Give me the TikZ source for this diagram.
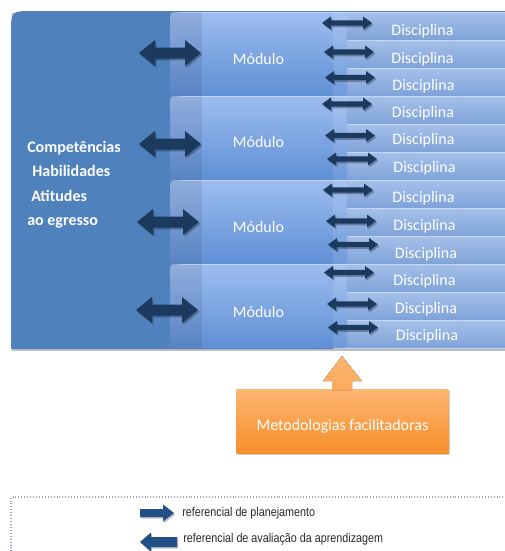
\documentclass[tikz,border=0pt]{standalone}
\usepackage{fontspec}
\setmainfont{Carlito}
\newfontfamily\legendfont[FakeStretch=0.85]{Liberation Sans}
\usetikzlibrary{shadows}
\definecolor{bigblue}{HTML}{4F81BD}
\definecolor{modtop}{HTML}{9DBDF0}
\definecolor{modbot}{HTML}{5F8FD4}
\definecolor{disctop}{HTML}{A6C1EA}
\definecolor{discbot}{HTML}{7EA2D8}
\definecolor{discline}{HTML}{C3D5F0}
\definecolor{navy}{HTML}{1B3A5E}
\definecolor{legblue}{HTML}{24508A}
\definecolor{orangetop}{HTML}{FDB570}
\definecolor{orangebot}{HTML}{F78F2C}
\definecolor{dotgray}{HTML}{9CA6B8}
\definecolor{legtext}{HTML}{2A2A2A}
% double block arrow: x1,x2,y,shaft half,head half,head length,style
\newcommand\dblarrow[7]{%
  \fill[black,opacity=0.28,xshift=1pt,yshift=-1.4pt]
    ({#1},{#3}) -- ({#1+#6},{#3-#5}) -- ({#1+#6},{#3-#4}) -- ({#2-#6},{#3-#4}) -- ({#2-#6},{#3-#5}) -- ({#2},{#3})
    -- ({#2-#6},{#3+#5}) -- ({#2-#6},{#3+#4}) -- ({#1+#6},{#3+#4}) -- ({#1+#6},{#3+#5}) -- cycle;
  \fill[#7]
    ({#1},{#3}) -- ({#1+#6},{#3-#5}) -- ({#1+#6},{#3-#4}) -- ({#2-#6},{#3-#4}) -- ({#2-#6},{#3-#5}) -- ({#2},{#3})
    -- ({#2-#6},{#3+#5}) -- ({#2-#6},{#3+#4}) -- ({#1+#6},{#3+#4}) -- ({#1+#6},{#3+#5}) -- cycle;}
\begin{document}
\begin{tikzpicture}[x=0.75pt,y=-0.75pt,
  modtext/.style={text=white,font=\fontsize{12}{14}\selectfont,anchor=base,inner sep=0pt},
  disctext/.style={text=white,font=\fontsize{12}{14}\selectfont,anchor=base,inner sep=0pt},
  lefttext/.style={text=white,font=\fontsize{12}{14}\selectfont\bfseries,anchor=base west,inner sep=0pt},
  legtxt/.style={text=legtext,font=\legendfont\fontsize{9.5}{11}\selectfont,anchor=base west,inner sep=0pt},
  discrow/.style={top color=disctop,bottom color=discbot,draw=discline,line width=0.6pt},
  modbox/.style={top color=modtop,bottom color=modbot}]
\path[use as bounding box] (0,0) rectangle (505,551);
\clip (0,0) rectangle (505,551);
\fill[white] (0,0) rectangle (505,551);

% big box
\fill[black,opacity=0.25] (12,13) -- (12,351) -- (510,351) -- (510,13) -- cycle;
\fill[bigblue] (11,349) -- (11,33) .. controls (11,11) .. (33,11) -- (510,11) -- (510,349) -- cycle;
\coordinate (bigbox) at (90,180);

% discipline rows
\foreach \i in {0,...,11}{
  \path[discrow] (333,{12+28*\i}) rectangle (512,{40+28*\i});
}

% modules
\foreach \j/\ya/\yb in {1/12/96,2/96/180,3/180/264,4/264/348}{
  \path[modbox] (170,\yb) -- (170,{\ya+9}) .. controls (170,\ya) .. (179,\ya) -- (347,\ya) -- (347,{\yb-9}) .. controls (347,\yb) .. (338,\yb) -- cycle;
  \begin{scope}
    \clip (170,\yb) -- (170,{\ya+9}) .. controls (170,\ya) .. (179,\ya) -- (347,\ya) -- (347,{\yb-9}) .. controls (347,\yb) .. (338,\yb) -- cycle;
    \fill[black,opacity=0.08] (170,\ya) rectangle (202,\yb);
    \fill[white,opacity=0.10] (333,\ya) rectangle (347,\yb);
  \end{scope}
  \draw[white,opacity=0.35,line width=0.6pt] (179,\ya) -- (347,\ya);
}

% module labels
\node[modtext] (m1) at (258.5,64) {Módulo};
\node[modtext] (m2) at (258.5,147) {Módulo};
\node[modtext] (m3) at (258.5,232) {Módulo};
\node[modtext] (m4) at (258.5,317) {Módulo};

% discipline labels
\foreach \k/\xx/\yy in {1/422.5/35,2/422.5/63,3/423.5/90,4/423/117,5/423.5/144,6/424.5/172,
                        7/423.5/202,8/424.5/230,9/426/258,10/424.5/285,11/426/313,12/427/340}{
  \node[disctext] (d\k) at (\xx,\yy) {Disciplina};
}

% left text
\node[lefttext] (t1) at (27,152) {Competências};
\node[lefttext] (t2) at (32,176) {Habilidades};
\node[lefttext] (t3) at (31,201) {Atitudes};
\node[lefttext] (t4) at (27,225) {ao egresso};

% big double arrows
\dblarrow{139}{201}{53}{5.5}{13}{16}{navy}
\dblarrow{139}{201}{144}{5.5}{13}{16}{navy}
\dblarrow{137}{199}{222}{5.5}{13}{16}{navy}
\dblarrow{136}{198}{310}{5.5}{13}{16}{navy}

% small double arrows
\foreach \xa/\yc in {322/23,324/52,325/77.5,322/104,325/135.5,327/159,323/190,326/221,328/244.5,324/272.5,327/304,328/327.5}{
  \dblarrow{\xa}{\xa+50}{\yc}{2.6}{6.5}{9}{navy}
}

% orange box and arrow
\fill[black,opacity=0.2] (238,391) rectangle (450,455);
\node[top color=orangetop,bottom color=orangebot,minimum width=212*0.75pt,minimum height=64*0.75pt,inner sep=0pt,anchor=north west] (meth) at (236,389) {};
\node[text=white,font=\fontsize{12}{14}\selectfont,anchor=base,inner sep=0pt] (methtext) at (342.5,430) {Metodologias facilitadoras};
\fill[top color=orangetop,bottom color=orangetop!70!orangebot] (342,356) -- (362,381) -- (352,381) -- (352,390) -- (332,390) -- (332,381) -- (323,381) -- cycle;

% legend box
\draw[dotgray,line width=0.8pt,dash pattern=on 0.6pt off 1.6pt] (11,560) -- (11,497) -- (515,497);

% legend arrows
\fill[black,opacity=0.25,xshift=0.8pt,yshift=-1.2pt] (140,509) -- (163,509) -- (163,504.5) -- (174,513) -- (163,521.5) -- (163,517) -- (140,517) -- cycle;
\fill[legblue] (140,509) -- (163,509) -- (163,504.5) -- (174,513) -- (163,521.5) -- (163,517) -- (140,517) -- cycle;
\fill[black,opacity=0.25,xshift=0.8pt,yshift=-1.2pt] (177,537) -- (151,537) -- (151,532.5) -- (140,542) -- (151,551.5) -- (151,547) -- (177,547) -- cycle;
\fill[legblue] (177,537) -- (151,537) -- (151,532.5) -- (140,542) -- (151,551.5) -- (151,547) -- (177,547) -- cycle;

\node[legtxt] (l1) at (182,516.5) {referencial de planejamento};
\node[legtxt] (l2) at (183,542.5) {referencial de avaliação da aprendizagem};
\end{tikzpicture}
\end{document}
